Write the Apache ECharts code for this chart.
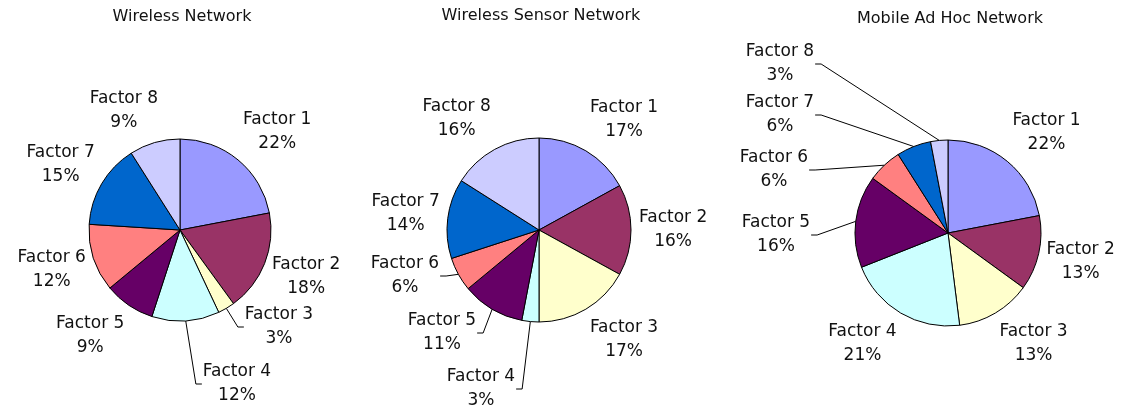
<!DOCTYPE html>
<html>
<head>
<meta charset="utf-8">
<script src="https://cdn.jsdelivr.net/npm/echarts@6/dist/echarts.min.js"></script>
<style>
  html, body { margin: 0; padding: 0; background: #ffffff; }
  #chart { width: 1122px; height: 410px; }
</style>
</head>
<body>
<div id="chart"></div>
<script>
// ---- data ----
const categories = ['Factor 1', 'Factor 2', 'Factor 3', 'Factor 4', 'Factor 5', 'Factor 6', 'Factor 7', 'Factor 8'];
const chartTitles = ['Wireless Network', 'Wireless Sensor Network', 'Mobile Ad Hoc Network'];
const wirelessNetwork = [22, 18, 3, 12, 9, 12, 15, 9];
const wirelessSensorNetwork = [17, 16, 17, 3, 11, 6, 14, 16];
const mobileAdHocNetwork = [22, 13, 13, 21, 16, 6, 6, 3];
const seriesValues = [wirelessNetwork, wirelessSensorNetwork, mobileAdHocNetwork];

// ---- styling / layout ----
const colors = ['#9999FF', '#993366', '#FFFFCC', '#CCFFFF', '#660066', '#FF8080', '#0066CC', '#CCCCFF'];
const FONT = 'DejaVu Sans';
const pieLayout = [
  { center: [180, 230], radius: 91, titleX: 182, titleTop: 8 },
  { center: [539, 230], radius: 92, titleX: 541, titleTop: 7 },
  { center: [948, 233], radius: 93, titleX: 950, titleTop: 10 }
];
// labels that were dragged away from their default place (offset of label centre from pie centre)
const movedLabels = [
  { 2: [99, 97], 3: [57, 154] },
  { 3: [-58, 159], 4: [-97, 103], 5: [-134, 46] },
  { 4: [-172, 2], 5: [-174, -63], 6: [-168, -118], 7: [-168, -169] }
];
const LABEL_GAP = 8;

function clamp1(v) { return Math.max(-1, Math.min(1, v)); }

function makeLabelLayout(s) {
  return function (params) {
    const L = pieLayout[s];
    const vals = seriesValues[s];
    const idx = params.dataIndex;
    const total = vals.reduce((a, b) => a + b, 0);
    let cum = 0;
    for (let i = 0; i < idx; i++) cum += vals[i];
    const mid = (cum + vals[idx] / 2) / total * Math.PI * 2;
    const ux = Math.sin(mid), uy = -Math.cos(mid);
    const cx = L.center[0], cy = L.center[1], r = L.radius;
    const w = params.labelRect.width, h = params.labelRect.height;
    const moved = movedLabels[s][idx];
    if (moved) {
      const x = cx + moved[0], y = cy + moved[1];
      const ax = cx + r * ux, ay = cy + r * uy;
      const side = x < ax ? 1 : -1;
      const ex = x + side * w / 2;
      return {
        x: x, y: y, align: 'center', verticalAlign: 'middle',
        labelLinePoints: [[ax, ay], [ex + side * 7, y], [ex + side * 1, y]]
      };
    }
    const d = r + LABEL_GAP;
    return {
      x: cx + d * ux + clamp1(3 * ux) * w / 2,
      y: cy + d * uy + clamp1(1.2 * uy) * h / 2,
      align: 'center', verticalAlign: 'middle'
    };
  };
}

const chart = echarts.init(document.getElementById('chart'), null, { renderer: 'canvas' });

const option = {
  backgroundColor: '#ffffff',
  animation: false,
  title: chartTitles.map((t, i) => ({
    text: t,
    left: pieLayout[i].titleX,
    top: pieLayout[i].titleTop,
    textAlign: 'center',
    padding: 0,
    textStyle: { fontFamily: FONT, fontSize: 16, fontWeight: 'normal', color: '#111', lineHeight: 18 }
  })),
  series: seriesValues.map((vals, s) => ({
    type: 'pie',
    center: pieLayout[s].center,
    radius: pieLayout[s].radius,
    startAngle: 90,
    clockwise: true,
    avoidLabelOverlap: false,
    silent: true,
    itemStyle: { borderColor: '#000000', borderWidth: 1 },
    label: {
      show: true,
      position: 'outside',
      formatter: '{b}\n{c}%',
      fontFamily: FONT,
      fontSize: 17,
      lineHeight: 24,
      color: '#111'
    },
    labelLine: { show: false, length: 10, length2: 6, lineStyle: { color: '#000', width: 1 } },
    labelLayout: makeLabelLayout(s),
    data: categories.map((name, i) => ({
      name: name,
      value: vals[i],
      itemStyle: { color: colors[i] },
      labelLine: { show: movedLabels[s][i] !== undefined }
    }))
  }))
};

chart.setOption(option);
</script>
</body>
</html>
